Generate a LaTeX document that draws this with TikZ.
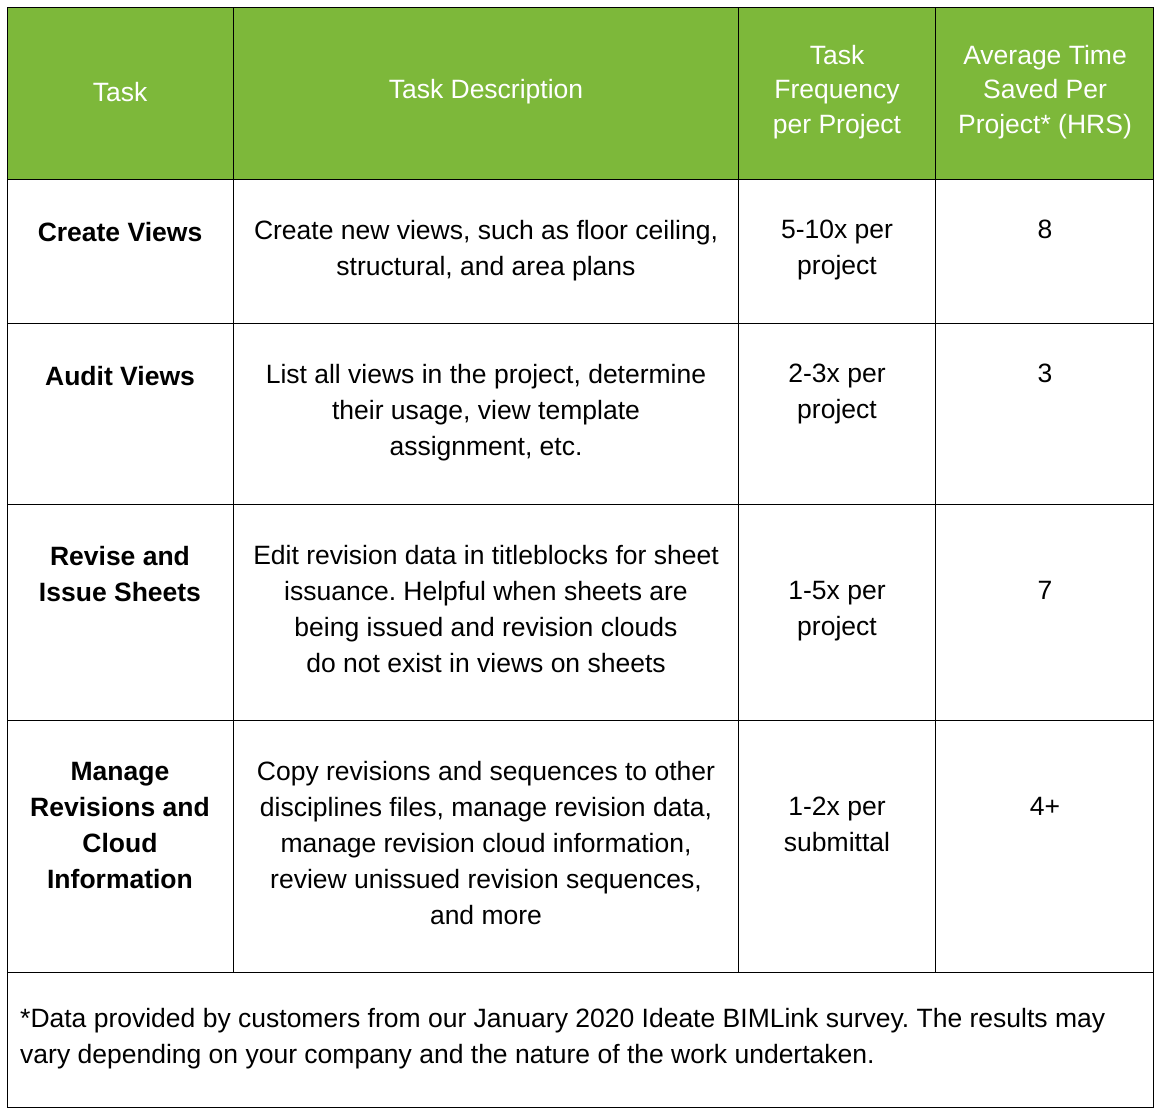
\documentclass[tikz,border=0pt]{standalone}
\usepackage{fontspec}
\setmainfont{Liberation Sans}
\usepackage{xcolor}
\definecolor{hdrgreen}{HTML}{7DB83A}
\frenchspacing
\tikzset{
  hdr/.style={text=white,align=center,inner sep=0pt,font=\fontsize{26.5}{34.5}\selectfont},
  cell/.style={anchor=north,align=center,inner sep=0pt,font=\fontsize{26.5}{36}\selectfont},
  task/.style={cell,font=\fontsize{26.5}{36}\selectfont\bfseries}
}
\begin{document}
\begin{tikzpicture}[x=1pt,y=-1pt]
  \useasboundingbox (0,0) rectangle (1163,1112);
  \fill[hdrgreen] (7,7) rectangle (1153,179);
  % grid
  \draw[line width=0.8pt] (7,7) rectangle (1153,1107);
  \foreach \yy in {179,323,504,720,972}
    \draw[line width=0.8pt] (7,\yy) -- (1153,\yy);
  \foreach \xx in {233,738,935}
    \draw[line width=0.8pt] (\xx,7) -- (\xx,972);
  % header
  \node[hdr] (h1) at (120,92) {Task};
  \node[hdr] (h2) at (486,92) {Task Description};
  \node[hdr] (h3) at (837,92) {Task\\Frequency\\per Project};
  \node[hdr] (h4) at (1045,92) {Average Time\\Saved Per\\Project* (HRS)};
  % row 1
  \node[task] (t1) at (120,222) {Create Views};
  \node[cell] (d1) at (486,220) {Create new views, such as floor ceiling,\\structural, and area plans};
  \node[cell] (f1) at (837,220) {5-10x per\\project};
  \node[cell] (s1) at (1045,220) {8};
  % row 2
  \node[task] (t2) at (120,366) {Audit Views};
  \node[cell] (d2) at (486,364) {List all views in the project, determine\\their usage, view template\\assignment, etc.};
  \node[cell] (f2) at (837,364) {2-3x per\\project};
  \node[cell] (s2) at (1045,364) {3};
  % row 3
  \node[task] (t3) at (120,546) {Revise and\\Issue Sheets};
  \node[cell] (d3) at (486,545) {Edit revision data in titleblocks for sheet\\issuance. Helpful when sheets are\\being issued and revision clouds\\do not exist in views on sheets};
  \node[cell] (f3) at (837,581) {1-5x per\\project};
  \node[cell] (s3) at (1045,581) {7};
  % row 4
  \node[task] (t4) at (120,762) {Manage\\Revisions and\\Cloud\\Information};
  \node[cell] (d4) at (486,761) {Copy revisions and sequences to other\\disciplines files, manage revision data,\\manage revision cloud information,\\review unissued revision sequences,\\and more};
  \node[cell] (f4) at (837,797) {1-2x per\\submittal};
  \node[cell] (s4) at (1045,797) {4+};
  % footnote
  \node[cell,anchor=west,align=left] (fn) at (20,1039) {*Data provided by customers from our January 2020 Ideate BIMLink survey. The results may\\vary depending on your company and the nature of the work undertaken.};
\end{tikzpicture}
\end{document}
